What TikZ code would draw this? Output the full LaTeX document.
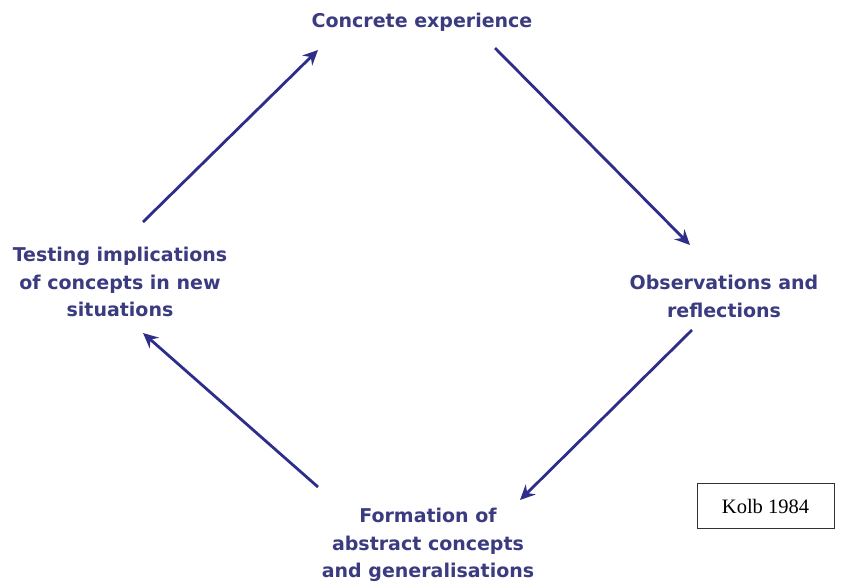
\documentclass[tikz,border=0pt]{standalone}
\usepackage{fontspec}
\setmainfont{DejaVu Sans}
\newfontfamily\kolbfont{Liberation Serif}
\usetikzlibrary{arrows.meta}
\definecolor{txtblue}{HTML}{3B3B80}
\definecolor{arrblue}{HTML}{2E2E8A}
\tikzset{
  lbl/.style={text=txtblue, font=\bfseries\fontsize{19}{27.5}\selectfont, align=center, inner sep=0pt},
  cyc/.style={draw=arrblue, line width=2.8pt, -{Stealth[length=15pt,width=14pt,inset=5pt]}},
  refbox/.style={draw=black!80, line width=1pt, minimum width=137pt, minimum height=45pt, font=\kolbfont\fontsize{20.5}{24}\selectfont, inner sep=0pt}
}
\begin{document}
\begin{tikzpicture}[x=1pt,y=-1pt]
\useasboundingbox[fill=white] (0,0) rectangle (842,582);
\node[lbl] (ce) at (422,22) {Concrete experience};
\node[lbl] (or) at (724,296.5) {Observations and\\reflections};
\node[lbl] (fa) at (428,545) {Formation of\\abstract concepts\\and generalisations};
\node[lbl] (ti) at (120,282) {Testing implications\\of concepts in new\\situations};
\node[refbox] (kb) at (765.5,506) {Kolb 1984};
\coordinate (a1s) at (495,48);  \coordinate (a1e) at (690,245);
\coordinate (a2s) at (692,330); \coordinate (a2e) at (520,500);
\coordinate (a3s) at (318,487); \coordinate (a3e) at (143,333);
\coordinate (a4s) at (143,222); \coordinate (a4e) at (318,50);
\draw[cyc] (a1s) -- (a1e);
\draw[cyc] (a2s) -- (a2e);
\draw[cyc] (a3s) -- (a3e);
\draw[cyc] (a4s) -- (a4e);
\end{tikzpicture}
\end{document}
